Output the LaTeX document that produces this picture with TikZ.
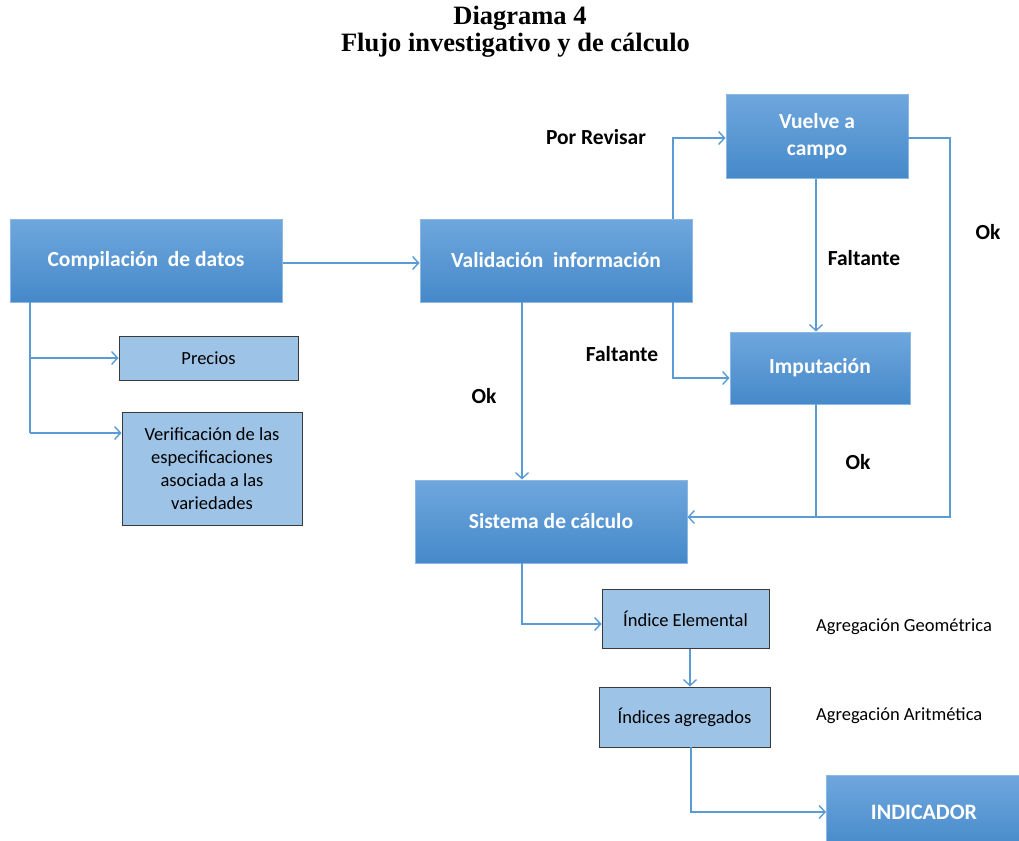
\documentclass[tikz,border=0pt]{standalone}
\usepackage{fontspec}
\setmainfont{Liberation Serif}
\newfontfamily\carl{Carlito}
\usetikzlibrary{arrows.meta}
\definecolor{boxtop}{HTML}{6FA7DD}
\definecolor{boxbot}{HTML}{4589CA}
\definecolor{boxedge}{HTML}{8DB8E4}
\definecolor{lightfill}{HTML}{9DC3E6}
\definecolor{lightedge}{HTML}{3A3A3A}
\definecolor{conn}{HTML}{5B9BD5}
\tikzset{
  bluebox/.style={draw=boxedge, line width=1pt, top color=boxtop, bottom color=boxbot,
    text=white, font=\carl\bfseries\fontsize{21.5}{26}\selectfont, align=center, inner sep=2pt},
  lightbox/.style={draw=lightedge, line width=1pt, fill=lightfill, text=black,
    font=\carl\fontsize{18.5}{23}\selectfont, align=center, inner sep=2pt},
  conn/.style={draw=conn, line width=1.4pt},
  arr/.style={conn, -{Straight Barb[length=6pt,width=13pt,line width=1.4pt]}},
  lbl/.style={font=\carl\bfseries\fontsize{21.5}{25}\selectfont, text=black, inner sep=0pt},
  agg/.style={font=\carl\fontsize{18.5}{22}\selectfont, text=black, inner sep=0pt, anchor=west},
  ttl/.style={font=\bfseries\fontsize{26.5}{30}\selectfont, inner sep=0pt, anchor=base}
}
\begin{document}
\begin{tikzpicture}[x=1pt,y=-1pt]
\useasboundingbox (0,0) rectangle (1019,840);
% title
\node[ttl] (t1) at (520,25) {Diagrama 4};
\node[ttl] (t2) at (515.5,52) {Flujo investigativo y de cálculo};
% main nodes
\node[bluebox, minimum width=272pt, minimum height=83pt] (comp) at (146,260.5) {Compilación~~de datos};
\node[lightbox, minimum width=179pt, minimum height=44pt] (prec) at (208.5,358) {Precios};
\node[lightbox, minimum width=180pt, minimum height=113pt] (verif) at (212,468.5) {Verificación de las\\especificaciones\\asociada a las\\variedades};
\node[bluebox, minimum width=272pt, minimum height=83pt] (valid) at (556,260.5) {Validación~~información};
\node[bluebox, minimum width=182pt, minimum height=83pt, font=\carl\bfseries\fontsize{21.5}{27}\selectfont] (vuelve) at (817,136.5) {Vuelve a\\campo};
\node[bluebox, minimum width=180pt, minimum height=72pt] (imput) at (820,368) {Imputación};
\node[bluebox, minimum width=272pt, minimum height=83pt] (sist) at (551,521.5) {Sistema de cálculo};
\node[lightbox, minimum width=167pt, minimum height=59pt] (ielem) at (685.5,618.5) {Índice Elemental};
\node[lightbox, minimum width=171pt, minimum height=60pt] (iagr) at (684.5,717) {Índices agregados};
\node[bluebox, minimum width=200pt, minimum height=75pt, anchor=north west] (ind) at (826,775) {};
\node[font=\carl\bfseries\fontsize{22}{26}\selectfont, text=white, inner sep=0pt] (indt) at (924,812) {INDICADOR};
% coordinates
\coordinate (c1) at (30,302);
\coordinate (c1a) at (30,358);
\coordinate (c1b) at (30,433);
\coordinate (v1) at (673,219);
\coordinate (v1t) at (673,138);
\coordinate (v2) at (673,302);
\coordinate (v2b) at (673,378);
\coordinate (r1) at (908,138);
\coordinate (r1a) at (950,138);
\coordinate (r1b) at (950,517);
\coordinate (im1) at (816,404);
\coordinate (im2) at (816,517);
\coordinate (s1) at (522,563);
\coordinate (s1b) at (522,624);
\coordinate (g1) at (691,747);
\coordinate (g1b) at (691,812);
% connectors
\draw[arr] (comp.east |- 0,263) -- (valid.west |- 0,263);
\draw[conn] (c1) -- (c1b);
\draw[arr] (c1a) -- (prec.west |- c1a);
\draw[arr] (c1b) -- (verif.west |- c1b);
\draw[arr] (v1) -- (v1t) -- (vuelve.west |- v1t);
\draw[arr] (v2) -- (v2b) -- (imput.west |- v2b);
\draw[arr] (522,302) -- (sist.north -| 522,0);
\draw[arr] (vuelve.south -| 816,0) -- (imput.north -| 816,0);
\draw[arr] (r1) -- (r1a) -- (r1b) -- (sist.east |- r1b);
\draw[conn] (im1) -- (im2);
\draw[arr] (s1) -- (s1b) -- (ielem.west |- s1b);
\draw[arr] (ielem.south -| 690,0) -- (iagr.north -| 690,0);
\draw[arr] (g1) -- (g1b) -- (ind.west |- g1b);
% labels
\node[lbl] (l1) at (596,137) {Por Revisar};
\node[lbl] (l2) at (622,354) {Faltante};
\node[lbl] (l3) at (484,396) {Ok};
\node[lbl] (l4) at (864,258) {Faltante};
\node[lbl] (l5) at (988,232) {Ok};
\node[lbl] (l6) at (858,462) {Ok};
\node[agg] (a1) at (816,627) {Agregación Geométrica};
\node[agg] (a2) at (816,716) {Agregación Aritmética};
\end{tikzpicture}
\end{document}
